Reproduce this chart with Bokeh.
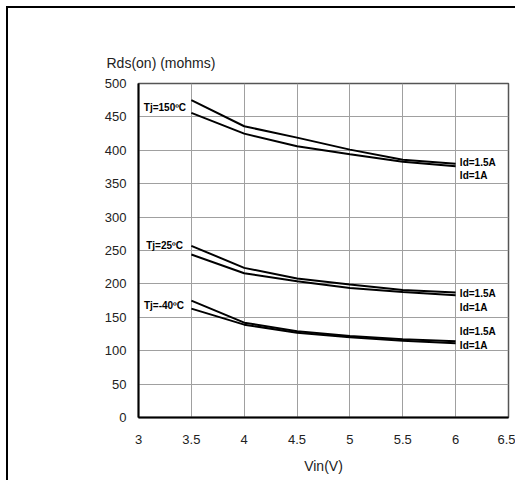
from bokeh.plotting import figure
from bokeh.models import Range1d, FixedTicker, Title
from bokeh.embed import file_html
from bokeh.resources import INLINE
from bokeh.core.properties import value

# ---- data ----
vin = [3.5, 4.0, 4.5, 5.0, 5.5, 6.0]
r150_id15 = [475, 436, 419, 401, 386, 380]
r150_id1 = [456, 425, 406, 394, 383, 376]
r25_id15 = [257, 224, 208, 199, 191, 187]
r25_id1 = [244, 216, 204, 194, 188, 183]
rm40_id15 = [175, 142, 129, 122, 117, 114]
rm40_id1 = [163, 139, 127, 120, 115, 111]

x_ticks = [3, 3.5, 4, 4.5, 5, 5.5, 6, 6.5]
x_tick_labels = ["3", "3.5", "4", "4.5", "5", "5.5", "6", "6.5"]
y_ticks = [0, 50, 100, 150, 200, 250, 300, 350, 400, 450, 500]

tj_labels = ["Tj=150ºC", "Tj=25ºC", "Tj=-40ºC"]
id_labels = ["Id=1.5A", "Id=1A", "Id=1.5A", "Id=1A", "Id=1.5A", "Id=1A"]

# label anchors
tj_x = [3.45, 3.42, 3.43]
tj_y = [464, 257, 168]
id_x = [6.04] * 6
id_y = [381, 362, 186, 165, 129, 108]

FONT = "Liberation Sans"

p = figure(width=509, height=474, x_range=Range1d(3, 6.5), y_range=Range1d(0, 500),
           output_backend="svg", toolbar_location=None,
           min_border_left=130, min_border_right=9, min_border_top=75, min_border_bottom=65)
p.title = None
p.styles = {"border-top": "2px solid #000", "border-left": "2px solid #000",
            "margin-left": "6px", "margin-top": "6px"}
p.background_fill_color = "white"
p.border_fill_color = "white"
p.outline_line_color = "#555555"
p.outline_line_width = 1.5

for ax in (p.xaxis[0], p.yaxis[0]):
    ax.axis_line_color = "black"
    ax.axis_line_width = 2
    ax.major_tick_line_color = None
    ax.minor_tick_line_color = None
    ax.major_label_text_font = FONT
    ax.major_label_text_font_size = "13px"
    ax.major_label_text_color = "#222222"

p.xaxis.ticker = FixedTicker(ticks=x_ticks)
p.xaxis.major_label_overrides = {t: l for t, l in zip(x_ticks, x_tick_labels)}
p.xaxis.major_label_standoff = 11
p.xaxis.axis_label = "Vin(V)"
p.xaxis.axis_label_text_font = FONT
p.xaxis.axis_label_text_font_style = "normal"
p.xaxis.axis_label_text_font_size = "14px"
p.xaxis.axis_label_text_color = "#222222"
p.xaxis.axis_label_standoff = 11

p.yaxis.ticker = FixedTicker(ticks=y_ticks)
p.yaxis.major_label_standoff = 6

p.xgrid.ticker = FixedTicker(ticks=x_ticks)
p.ygrid.ticker = FixedTicker(ticks=y_ticks)
for g in (p.xgrid[0], p.ygrid[0]):
    g.grid_line_color = "#a0a0a0"
    g.grid_line_width = 1

for ys in (r150_id15, r150_id1, r25_id15, r25_id1, rm40_id15, rm40_id1):
    p.line(vin, ys, line_color="black", line_width=2)

p.text(x=tj_x, y=tj_y, text=tj_labels, text_align="right", text_baseline="middle",
       text_font=value(FONT), text_font_style="bold", text_font_size="10px", text_color="black")
p.text(x=id_x, y=id_y, text=id_labels, text_align="left", text_baseline="middle",
       text_font=value(FONT), text_font_style="bold", text_font_size="10px", text_color="black")

# small empty spacer between the frame and the y-axis title
p.add_layout(Title(text=" ", text_font_size="6px", standoff=0), "above")
p.add_layout(Title(text="Rds(on) (mohms)", align="left", offset=-32,
                   vertical_align="bottom",
                   text_font=FONT, text_font_size="14px", text_font_style="normal",
                   text_color="#222222"), "above")

open("out.html", "w").write(file_html(p, INLINE))
